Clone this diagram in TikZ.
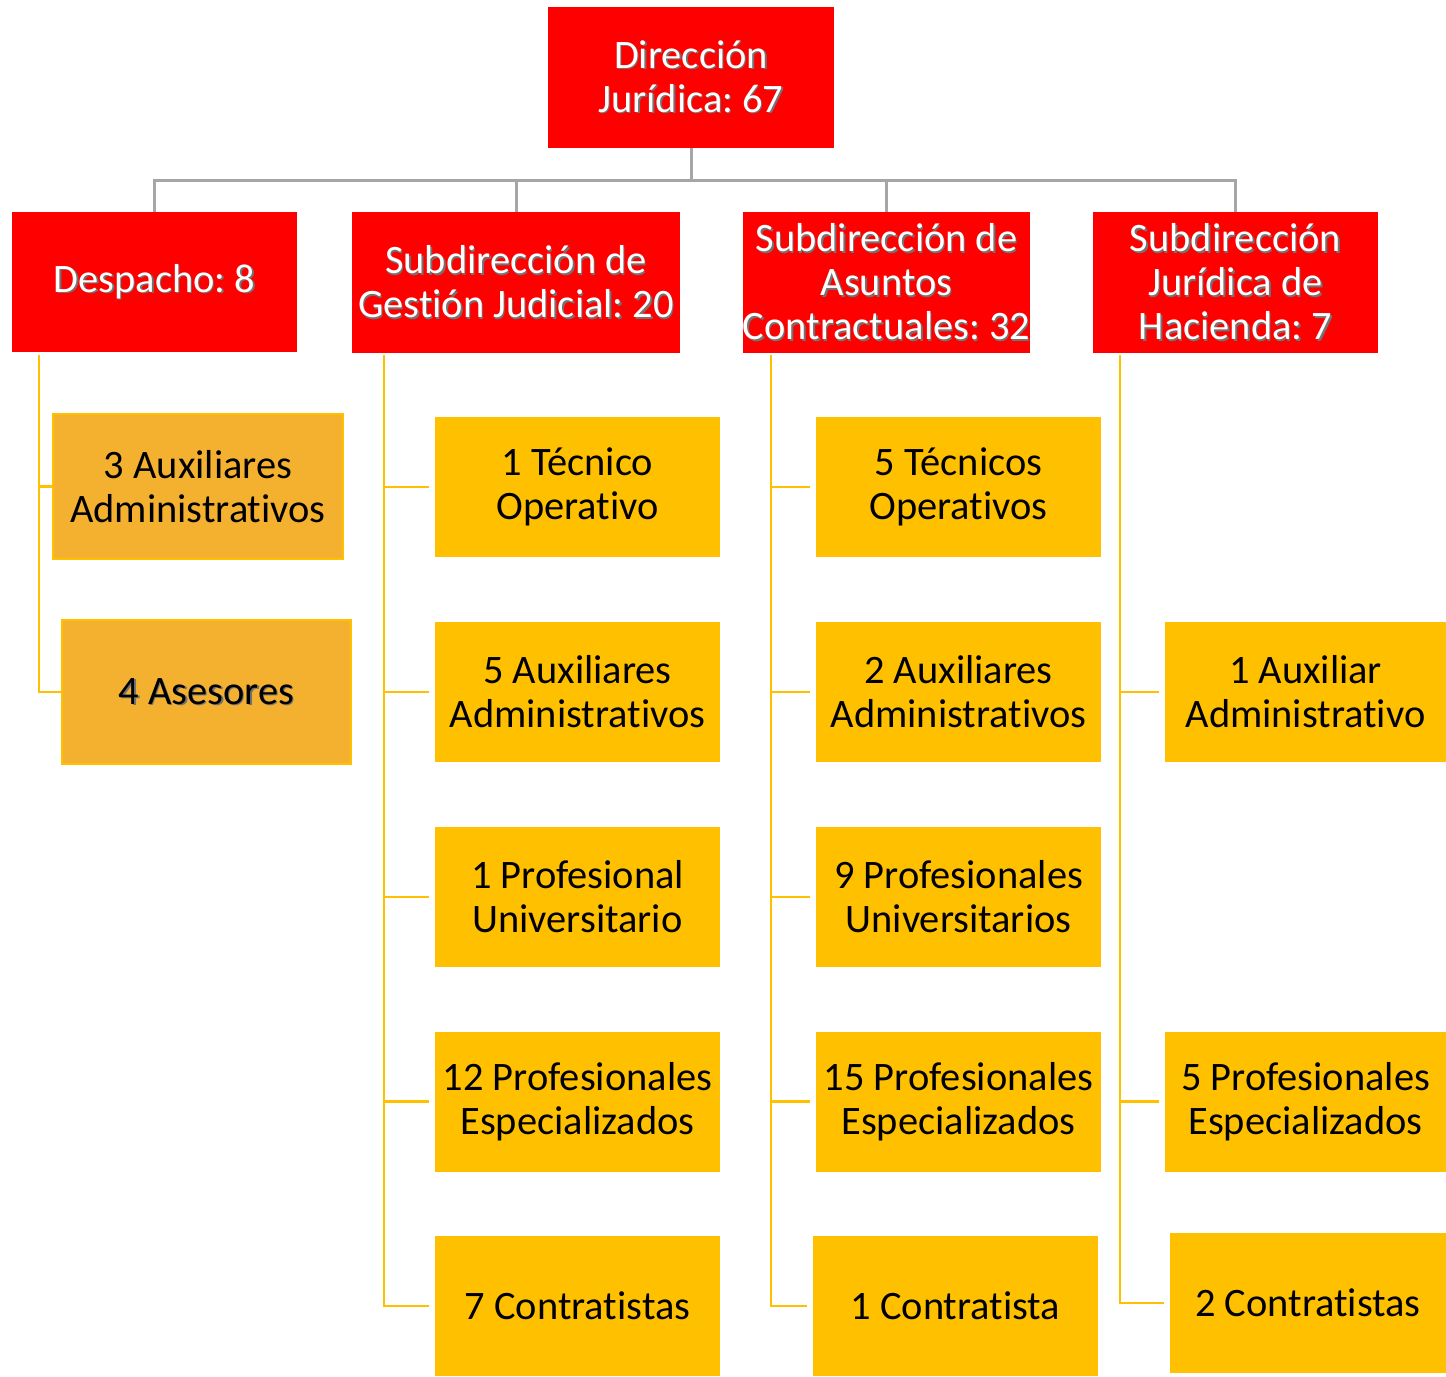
\documentclass[tikz,border=0pt]{standalone}
\usepackage{fontspec}
\setmainfont{Carlito}[Ligatures=NoCommon]
\frenchspacing
\definecolor{rojo}{HTML}{FF0000}
\definecolor{amarillo}{HTML}{FFC000}
\definecolor{naranja}{HTML}{F4B12F}
\definecolor{gris}{HTML}{A6A6A6}
\newcommand{\sombra}[1]{\makebox[0pt][l]{\hspace{0.8pt}\raisebox{-0.8pt}{\color{black!55}#1}}#1}
\tikzset{
  jefe/.style={fill=rojo, text=white, align=center, inner sep=0pt,
    minimum width=5.7cm, minimum height=2.8cm, font=\fontsize{23}{25}\selectfont},
  cargo/.style={fill=amarillo, align=center, inner sep=0pt,
    minimum width=5.7cm, minimum height=2.8cm, font=\fontsize{23}{25}\selectfont},
  despcargo/.style={cargo, fill=naranja, draw=amarillo, line width=1pt},
  ramagris/.style={gris, line width=1.7pt},
  rama/.style={amarillo, line width=1.4pt}
}
\begin{document}
\begin{tikzpicture}[x=0.02cm,y=-0.02cm]
\useasboundingbox (0,0) rectangle (1446,1376);
% direccion y subdirecciones
\node[jefe, minimum width=5.72cm, minimum height=2.82cm] (dir) at (691,77.5) {\sombra{Dirección}\\\sombra{Jurídica: 67}};
\node[jefe] (desp) at (154.5,282) {\sombra{Despacho: 8}};
\node[jefe, minimum width=6.56cm, minimum height=2.82cm] (gest) at (516,282.5) {\sombra{Subdirección de}\\\sombra{Gestión Judicial: 20}};
\node[jefe, minimum height=2.82cm] (contr) at (886.5,282.5) {\sombra{Subdirección de}\\\sombra{Asuntos}\\\sombra{Contractuales: 32}};
\node[jefe, minimum height=2.82cm] (hac) at (1235.5,282.5) {\sombra{Subdirección}\\\sombra{Jurídica de}\\\sombra{Hacienda: 7}};
\foreach \s in {desp,gest,contr,hac}
  \draw[ramagris] (dir.south) -- ++(0,32) -| (\s.north);

% despacho
\node[despcargo, minimum width=5.8cm, minimum height=2.9cm] (d1) at (198,486.5) {3 Auxiliares\\Administrativos};
\node[despcargo, minimum width=5.78cm, minimum height=2.88cm] (d2) at (206.5,692) {\sombra{4 Asesores}};
\coordinate (d0) at (39,355);
\foreach \n in {d1,d2}
  \draw[rama] (d0) |- (\n.west);

% gestion judicial
\node[cargo] (g1) at (577.5,487) {1 Técnico\\Operativo};
\node[cargo] (g2) at (577.5,692) {5 Auxiliares\\Administrativos};
\node[cargo] (g3) at (577.5,897) {1 Profesional\\Universitario};
\node[cargo] (g4) at (577.5,1101.5) {12 Profesionales\\Especializados};
\node[cargo] (g5) at (577.5,1306) {7 Contratistas};
\coordinate (g0) at (384,355);
\foreach \n in {g1,g2,g3,g4,g5}
  \draw[rama] (g0) |- ([xshift=-3pt]\n.west);

% asuntos contractuales
\node[cargo] (c1) at (958.5,487) {5 Técnicos\\Operativos};
\node[cargo] (c2) at (958.5,692) {2 Auxiliares\\Administrativos};
\node[cargo] (c3) at (958.5,897) {9 Profesionales\\Universitarios};
\node[cargo] (c4) at (958.5,1101.5) {15 Profesionales\\Especializados};
\node[cargo] (c5) at (955.5,1306) {1 Contratista};
\coordinate (c0) at (771,355);
\foreach \n in {c1,c2,c3,c4,c5}
  \draw[rama] (c0) |- ([xshift=-3pt]\n.west);

% hacienda
\node[cargo, minimum width=5.62cm] (h1) at (1305.5,692) {1 Auxiliar\\Administrativo};
\node[cargo, minimum width=5.62cm] (h2) at (1305.5,1101.5) {5 Profesionales\\Especializados};
\node[cargo, minimum width=5.52cm] (h3) at (1308,1303) {2 Contratistas};
\coordinate (h0) at (1120,355);
\foreach \n in {h1,h2,h3}
  \draw[rama] (h0) |- ([xshift=-3pt]\n.west);
\end{tikzpicture}
\end{document}
